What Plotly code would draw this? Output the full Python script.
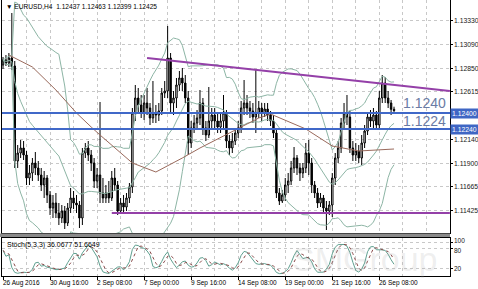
import plotly.graph_objects as go
import pandas as pd

# ---------------- data (EURUSD H4) ----------------
opens = [1.1288,1.1293,1.1290,1.1295,1.1287,1.1192,1.1200,1.1205,1.1198,1.1175,
         1.1180,1.1190,1.1185,1.1178,1.1168,1.1175,1.1158,1.1145,1.1150,1.1140,
         1.1135,1.1142,1.1130,1.1145,1.1155,1.1150,1.1148,1.1135,1.1200,1.1205,
         1.1198,1.1190,1.1172,1.1178,1.1160,1.1155,1.1160,1.1155,1.1175,1.1168,
         1.1142,1.1150,1.1146,1.1155,1.1166,1.1240,1.1255,1.1248,1.1240,1.1250,
         1.1245,1.1235,1.1240,1.1238,1.1242,1.1260,1.1262,1.1295,1.1250,1.1255,
         1.1268,1.1275,1.1270,1.1255,1.1210,1.1225,1.1230,1.1235,1.1250,1.1225,
         1.1218,1.1232,1.1238,1.1232,1.1226,1.1232,1.1240,1.1212,1.1205,1.1212,
         1.1220,1.1225,1.1245,1.1250,1.1245,1.1242,1.1236,1.1240,1.1245,1.1240,
         1.1244,1.1238,1.1232,1.1220,1.1160,1.1152,1.1158,1.1168,1.1172,1.1185,
         1.1195,1.1185,1.1180,1.1185,1.1200,1.1190,1.1168,1.1160,1.1150,1.1155,
         1.1145,1.1142,1.1148,1.1175,1.1195,1.1205,1.1230,1.1240,1.1236,1.1205,
         1.1198,1.1202,1.1195,1.1210,1.1222,1.1236,1.1232,1.1238,1.1228,1.1255,
         1.1270,1.1255,1.1250,1.12437]
highs = [1.1296,1.1298,1.1300,1.1340,1.1292,1.1208,1.1213,1.1212,1.1202,1.1188,
         1.1195,1.1201,1.1192,1.1185,1.1182,1.1178,1.1162,1.1158,1.1160,1.1150,
         1.1148,1.1147,1.1150,1.1165,1.1162,1.1158,1.1152,1.1205,1.1210,1.1212,
         1.1203,1.1195,1.1185,1.1251,1.1175,1.1168,1.1172,1.1182,1.1185,1.1172,
         1.1155,1.1158,1.1160,1.1170,1.1245,1.1268,1.1265,1.1258,1.1258,1.1265,
         1.1250,1.1272,1.1248,1.1250,1.1265,1.1272,1.1327,1.1300,1.1262,1.1275,
         1.1282,1.1285,1.1278,1.1262,1.1232,1.1238,1.1243,1.1263,1.1255,1.1232,
         1.1266,1.1245,1.1245,1.1240,1.1240,1.1258,1.1243,1.1218,1.1220,1.1225,
         1.1232,1.1252,1.1273,1.1258,1.1252,1.1250,1.1284,1.1252,1.1250,1.1250,
         1.1250,1.1242,1.1238,1.1225,1.1165,1.1163,1.1175,1.1180,1.1192,1.1206,
         1.1198,1.1190,1.1190,1.1210,1.1213,1.1195,1.1172,1.1165,1.1160,1.1158,
         1.1152,1.1152,1.1180,1.1200,1.1212,1.1235,1.1250,1.1258,1.1242,1.1212,
         1.1210,1.1208,1.1218,1.1228,1.1240,1.1243,1.1245,1.1242,1.1262,1.1278,
         1.1276,1.1262,1.1253,1.12463]
lows  = [1.1284,1.1287,1.1286,1.1283,1.1185,1.1185,1.1195,1.1193,1.1168,1.1168,
         1.1172,1.1178,1.1172,1.1162,1.1155,1.1150,1.1138,1.1135,1.1135,1.1128,
         1.1130,1.1124,1.1127,1.1140,1.1144,1.1140,1.1125,1.1128,1.1195,1.1192,
         1.1182,1.1165,1.1165,1.1150,1.1150,1.1150,1.1150,1.1152,1.1162,1.1138,
         1.1139,1.1140,1.1142,1.1150,1.1160,1.1232,1.1240,1.1235,1.1233,1.1238,
         1.1228,1.1230,1.1230,1.1232,1.1238,1.1255,1.1255,1.1240,1.1238,1.1245,
         1.1262,1.1262,1.1250,1.1198,1.1205,1.1220,1.1225,1.1228,1.1218,1.1212,
         1.1215,1.1225,1.1225,1.1220,1.1220,1.1225,1.1205,1.1198,1.1200,1.1208,
         1.1215,1.1220,1.1238,1.1238,1.1235,1.1230,1.1220,1.1235,1.1232,1.1236,
         1.1232,1.1227,1.1215,1.1155,1.1148,1.1150,1.1152,1.1160,1.1168,1.1180,
         1.1178,1.1172,1.1175,1.1180,1.1178,1.1160,1.1155,1.1145,1.1146,1.1140,
         1.1123,1.1138,1.1136,1.1168,1.1190,1.1200,1.1225,1.1228,1.1200,1.1192,
         1.1192,1.1190,1.1188,1.1205,1.1218,1.1226,1.1225,1.1224,1.1224,1.1250,
         1.1250,1.1245,1.1238,1.12399]
closes = [1.1293,1.1290,1.1295,1.1287,1.1192,1.1200,1.1205,1.1198,1.1175,1.1180,
          1.1190,1.1185,1.1178,1.1168,1.1175,1.1158,1.1145,1.1150,1.1140,1.1135,
          1.1142,1.1130,1.1145,1.1155,1.1150,1.1148,1.1135,1.1200,1.1205,1.1198,
          1.1190,1.1172,1.1178,1.1160,1.1155,1.1160,1.1155,1.1175,1.1168,1.1142,
          1.1150,1.1146,1.1155,1.1166,1.1240,1.1255,1.1248,1.1240,1.1250,1.1245,
          1.1235,1.1240,1.1238,1.1242,1.1260,1.1262,1.1295,1.1250,1.1255,1.1268,
          1.1275,1.1270,1.1255,1.1210,1.1225,1.1230,1.1235,1.1250,1.1225,1.1218,
          1.1232,1.1238,1.1232,1.1226,1.1232,1.1240,1.1212,1.1205,1.1212,1.1220,
          1.1225,1.1245,1.1250,1.1245,1.1242,1.1236,1.1240,1.1245,1.1240,1.1244,
          1.1238,1.1232,1.1220,1.1160,1.1152,1.1158,1.1168,1.1172,1.1185,1.1195,
          1.1185,1.1180,1.1185,1.1200,1.1190,1.1168,1.1160,1.1150,1.1155,1.1145,
          1.1142,1.1148,1.1175,1.1195,1.1205,1.1230,1.1240,1.1236,1.1205,1.1198,
          1.1202,1.1195,1.1210,1.1222,1.1236,1.1232,1.1238,1.1228,1.1255,1.1270,
          1.1255,1.1250,1.12437,1.12425]

# brown moving average at these bars
ma_bars = [2, 10, 18, 25, 30, 33, 44, 52, 61, 67, 77, 87, 91, 103, 112, 121, 133]
ma_vals = [1.1298, 1.1286, 1.1263, 1.1240, 1.1226, 1.1218, 1.1190, 1.1181, 1.1195,
           1.1205, 1.1220, 1.1235, 1.1239, 1.1224, 1.1207, 1.1202, 1.1204]

# drawn objects
level_prices = [1.1240, 1.1224]
level_labels = ["1.1240", "1.1224"]
level_axis_labels = ["1.12400", "1.12240"]
trend_bars = [49, 152]
trend_prices = [1.1295, 1.1262]
support_bars = [37, 152]
support_prices = [1.1140, 1.1140]

price_ticks = [1.13330, 1.13090, 1.12850, 1.12615, 1.12140, 1.11900, 1.11665, 1.11425, 1.11185]
time_tick_bars = [0, 16, 32, 48, 64, 80, 96, 112, 128]
time_tick_labels = ["26 Aug 2016", "30 Aug 16:00", "2 Sep 08:00", "7 Sep 00:00", "9 Sep 16:00",
                    "14 Sep 08:00", "19 Sep 00:00", "21 Sep 16:00", "26 Sep 08:00"]
stoch_ticks = [100, 80, 20]

# ---------------- indicators ----------------
bars = list(range(len(closes)))
C = pd.Series(closes); H = pd.Series(highs); L = pd.Series(lows)
mid = C.rolling(20, min_periods=1).mean()
sd = C.rolling(20, min_periods=1).std(ddof=0).fillna(0)
upper = mid + 2 * sd
lower = mid - 2 * sd
ll = L.rolling(5, min_periods=1).min()
hh = H.rolling(5, min_periods=1).max()
k = 100 * (C - ll).rolling(3, min_periods=1).sum() / (hh - ll).rolling(3, min_periods=1).sum()
d = k.rolling(3, min_periods=1).mean()

FONT = "Liberation Sans"
band_col = "#8db5a5"

fig = go.Figure()
for band in (upper, mid, lower):
    fig.add_trace(go.Scatter(x=bars, y=band, mode="lines", line=dict(color=band_col, width=1),
                             xaxis="x", yaxis="y", hoverinfo="skip"))
fig.add_trace(go.Scatter(x=ma_bars, y=ma_vals, mode="lines", line=dict(color="#9a6a5c", width=1),
                         xaxis="x", yaxis="y"))
fig.add_trace(go.Candlestick(x=bars, open=opens, high=highs, low=lows, close=closes,
                             increasing=dict(fillcolor="white", line=dict(color="black", width=1)),
                             decreasing=dict(fillcolor="black", line=dict(color="black", width=1)),
                             whiskerwidth=0, xaxis="x", yaxis="y"))
for p in level_prices:
    fig.add_trace(go.Scatter(x=[-1, 153], y=[p, p], mode="lines", line=dict(color="#4068c8", width=2),
                             xaxis="x", yaxis="y"))
fig.add_trace(go.Scatter(x=trend_bars, y=trend_prices, mode="lines", line=dict(color="#9440a8", width=2),
                         xaxis="x", yaxis="y"))
fig.add_trace(go.Scatter(x=support_bars, y=support_prices, mode="lines", line=dict(color="#9440a8", width=2),
                         xaxis="x", yaxis="y"))
# stochastic
fig.add_trace(go.Scatter(x=bars, y=k, mode="lines", line=dict(color="#5fa090", width=1),
                         xaxis="x2", yaxis="y2"))
fig.add_trace(go.Scatter(x=bars, y=d, mode="lines", line=dict(color="#8a4a4a", width=1, dash="dot"),
                         xaxis="x2", yaxis="y2"))

grid = dict(gridcolor="#c8c8c8", griddash="dot", gridwidth=1)
xr = [-0.34, 152.04]
PH = 276
main_bottom = 1 - 233 / PH
stoch_top = 1 - 238 / PH

fig.update_layout(
    width=478, height=289, margin=dict(l=2, r=28, t=0, b=13, autoexpand=False),
    paper_bgcolor="white", plot_bgcolor="white", showlegend=False,
    font=dict(family=FONT, size=7, color="black"),
    xaxis=dict(domain=[0, 1], range=xr, anchor="y", tickvals=list(range(0, 153, 8)),
               showticklabels=False, ticks="", showgrid=True, **grid, zeroline=False,
               rangeslider=dict(visible=False), showline=True, linecolor="black", mirror=True,
               automargin=False),
    yaxis=dict(domain=[main_bottom, 1], range=[1.1120, 1.1353], side="right", anchor="x",
               tickvals=price_ticks, ticktext=[""] * len(price_ticks),
               ticks="outside", ticklen=2, tickcolor="black", showgrid=True, **grid, zeroline=False,
               showline=True, linecolor="black", mirror=True, automargin=False),
    xaxis2=dict(domain=[0, 1], range=xr, anchor="y2", matches="x",
                tickvals=time_tick_bars, ticktext=[""] * len(time_tick_bars),
                ticks="outside", ticklen=3, tickcolor="black", showgrid=True, **grid, zeroline=False,
                minor=dict(tickvals=list(range(8, 153, 16)), showgrid=True, ticks="", **grid),
                showline=True, linecolor="black", mirror=True, automargin=False),
    yaxis2=dict(domain=[0, stoch_top], range=[-1, 112], side="right", anchor="x2",
                tickvals=stoch_ticks, ticktext=[""] * len(stoch_ticks),
                ticks="outside", ticklen=2, tickcolor="black", showgrid=True, **grid, zeroline=False,
                showline=True, linecolor="black", mirror=True, automargin=False),
)

# price labels on the right
for v in price_ticks:
    fig.add_annotation(x=1, xref="paper", y=v, yref="y", xshift=2, text=f"{v:.5f}", showarrow=False,
                       xanchor="left", yanchor="middle", font=dict(family=FONT, size=6.8, color="#202020"))
for v, ys in zip(stoch_ticks, [2, -2, 0]):
    fig.add_annotation(x=1, xref="paper", y=v, yref="y2", xshift=2, yshift=ys, text=str(v), showarrow=False,
                       xanchor="left", yanchor="middle", font=dict(family=FONT, size=6.5, color="#202020"))

# time labels, left-aligned at their ticks
for b, lab in zip(time_tick_bars, time_tick_labels):
    fig.add_annotation(x=b, xref="x2", y=0, yref="paper", yshift=-1, xshift=-2, text=lab,
                       showarrow=False, xanchor="left", yanchor="top",
                       font=dict(family=FONT, size=6.5, color="black"))

# separator between panels
fig.add_shape(type="rect", xref="paper", yref="paper", x0=-0.005, x1=1.0, y0=stoch_top + 0.004,
              y1=main_bottom - 0.002, fillcolor="#8a8a8a", line=dict(width=0), layer="above")

# level labels (big text) and axis boxes
for p, lab, alab, yoff in zip(level_prices, level_labels, level_axis_labels, [0.0010, 0.0008]):
    fig.add_annotation(x=0.995, xref="paper", y=p + yoff, yref="y", text=lab, showarrow=False,
                       xanchor="right", yanchor="middle",
                       font=dict(family=FONT, size=14, color="#6a7ba4"))
    fig.add_annotation(x=1.0, xref="paper", y=p, yref="y", text=alab, showarrow=False,
                       xanchor="left", yanchor="middle", bgcolor="#3f66c4", borderpad=1,
                       font=dict(family=FONT, size=6.8, color="white"))

fig.add_annotation(x=0, xref="paper", y=1, yref="paper", xshift=2, yshift=-1,
                   text="▼ EURUSD,H4  1.12437 1.12463 1.12399 1.12425", showarrow=False,
                   xanchor="left", yanchor="top", font=dict(family=FONT, size=6.6, color="black"))
fig.add_annotation(x=0, xref="paper", y=stoch_top, yref="paper", xshift=3, yshift=-1,
                   text="Stoch(5,3,3) 36.0677 51.6649", showarrow=False,
                   xanchor="left", yanchor="top", font=dict(family=FONT, size=7, color="black"))
fig.add_annotation(x=0.81, xref="paper", y=0.06, yref="paper", text="SMGroup", showarrow=False,
                   xanchor="center", yanchor="middle",
                   font=dict(family=FONT, size=34, color="rgba(170,170,170,0.2)"))

fig.write_html("out.html")
